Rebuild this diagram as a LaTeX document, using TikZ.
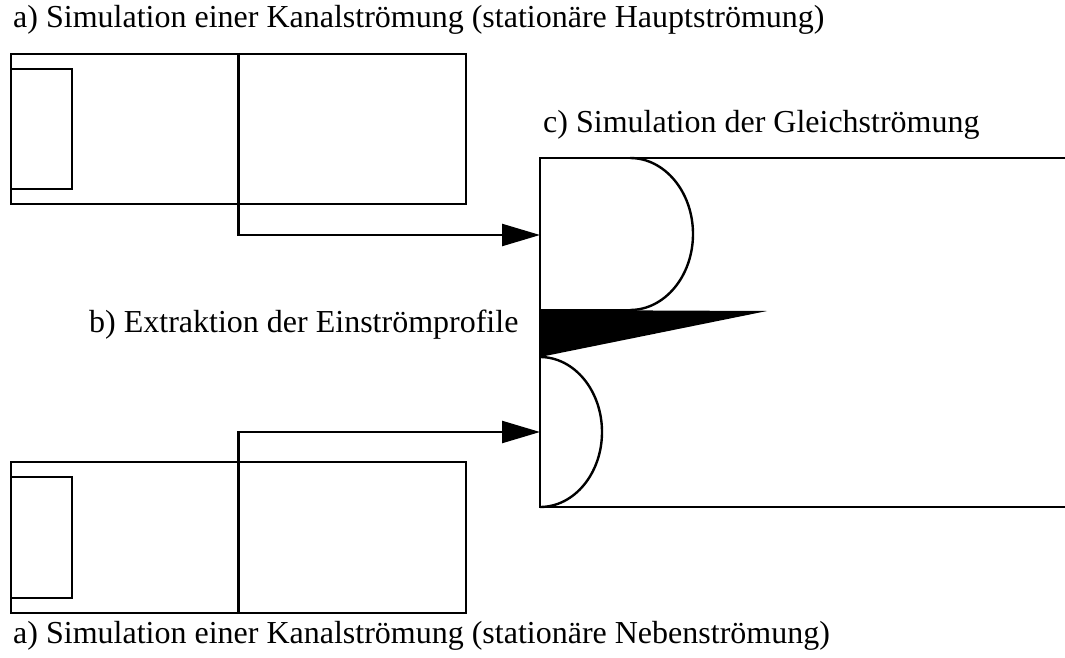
\documentclass[tikz,border=0pt]{standalone}
\usepackage{fontspec}
\setmainfont{Liberation Serif}
\usetikzlibrary{arrows.meta}
\begin{document}
\begin{tikzpicture}[x=0.5pt,y=-0.5pt,
  line width=1.2pt,
  box/.style={draw, rectangle, inner sep=0pt, line width=1.2pt},
  lbl/.style={anchor=base west, inner sep=0pt, font=\fontsize{16}{19}\selectfont},
  feed/.style={-{Triangle[length=19pt,width=11pt]}, line width=1.2pt}]
\useasboundingbox (0,0) rectangle (1065,658);
% upper channel (main flow)
\node[box, minimum width=227.5pt, minimum height=75pt] (topbox) at (238.5,129) {};
\node[box, minimum width=30.5pt, minimum height=60pt] (topin) at (41.5,129) {};
% lower channel (secondary flow)
\node[box, minimum width=227.5pt, minimum height=75.5pt] (botbox) at (238.5,537.5) {};
\node[box, minimum width=30.5pt, minimum height=60.5pt] (botin) at (41.5,537.5) {};
% target channel
\coordinate (cTR) at (1066,158);
\coordinate (cTL) at (540,158);
\coordinate (cBL) at (540,507);
\coordinate (cBR) at (1066,507);
\draw (cTR) -- (cTL) -- (cBL) -- (cBR);
% inlets
\coordinate (inA) at (540,235);
\coordinate (inB) at (540,432);
\draw[feed] (topbox.north) |- (inA);
\draw[feed] (botbox.south) |- (inB);
% upper profile
\coordinate (pA0) at (540,310);
\coordinate (pA1) at (630,310);
\coordinate (pA2) at (630,158);
\draw (pA0) -- (pA1);
\draw (pA2) arc[start angle=90, end angle=-90, x radius=31.5pt, y radius=38pt];
% wedge
\coordinate (w1) at (540,310);
\coordinate (w2) at (767,311);
\coordinate (w3) at (540,357);
\fill (w1) -- (w2) -- (w3) -- cycle;
% lower profile
\coordinate (pB0) at (540,357);
\draw (pB0) arc[start angle=90, end angle=-90, x radius=31pt, y radius=37.5pt];
% labels
\node[lbl] (la) at (12,28) {a) Simulation einer Kanalströmung (stationäre Hauptströmung)};
\node[lbl] (lb) at (88,332) {b) Extraktion der Einströmprofile};
\node[lbl] (lc) at (542,133) {c) Simulation der Gleichströmung};
\node[lbl] (ld) at (12,643) {a) Simulation einer Kanalströmung (stationäre Nebenströmung)};
\end{tikzpicture}
\end{document}
